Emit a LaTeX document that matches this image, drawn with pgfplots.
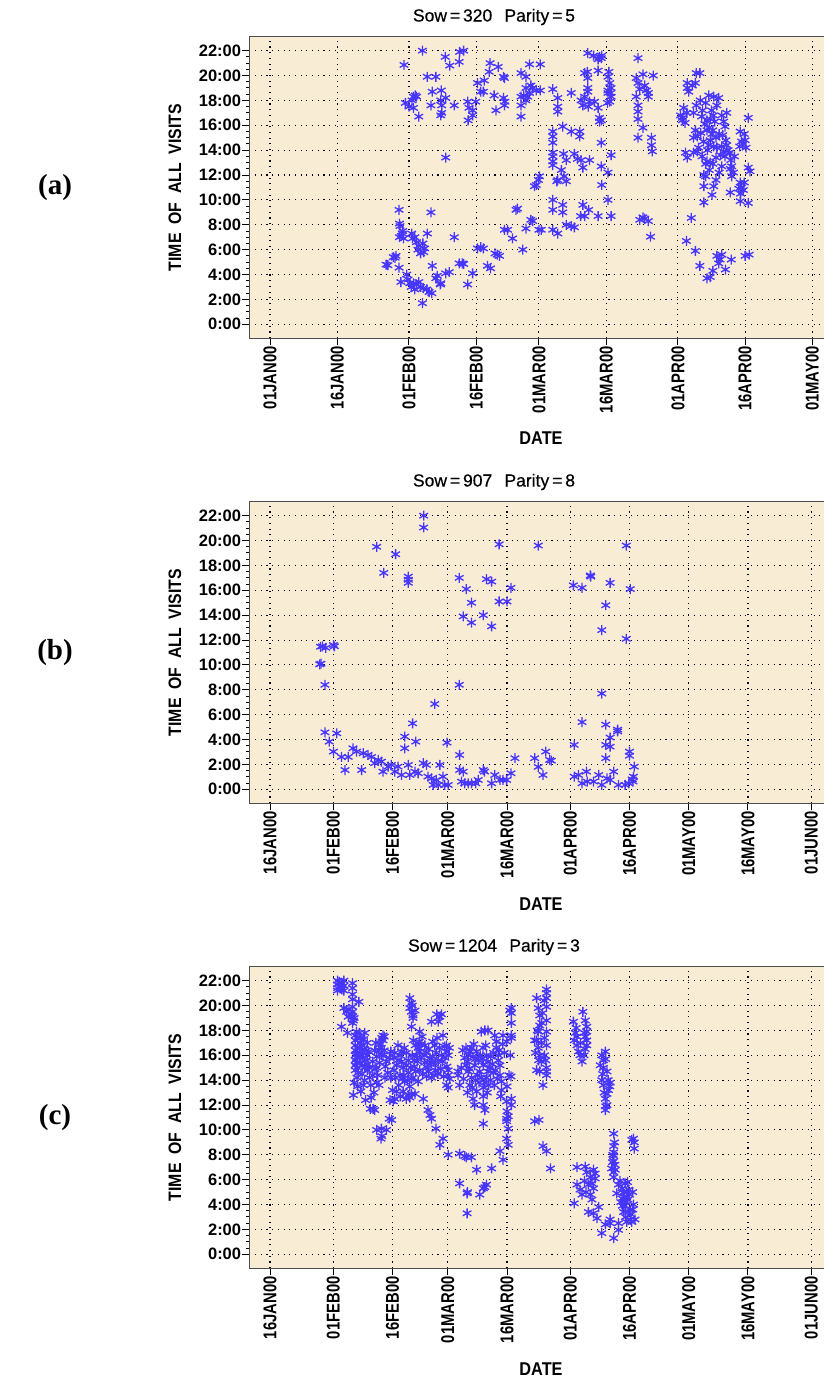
\documentclass[border=0pt]{standalone}
\usepackage{fontspec}
\setmainfont{Liberation Sans}
\newfontfamily\condfont{Liberation Sans}[FakeStretch=0.8]
\newfontfamily\labelfont{Liberation Sans}[FakeStretch=0.88]
\newfontfamily\titlefont{Liberation Sans}[FakeBold=0.5]
\newfontfamily\panelfont{Liberation Serif}
\usepackage{pgfplots}
\usepackage{pgfplotstable}
\pgfplotsset{compat=1.18}

\definecolor{bgcol}{RGB}{249,236,213}
\definecolor{markcol}{RGB}{70,52,255}

% x = days since 01JAN2000, y = hour of day
\pgfplotstableread{
day hour
25.9 4.8
26.3 4.75
27.5 5.4
27.9 5.35
28.1 5.5
28.8 4.55
28.8 9.2
28.9 8.1
29.0 7.9
28.9 7.0
29.3 7.1
29.5 7.3
29.8 6.9
29.6 7.5
29.2 3.4
30.5 4.0
30.8 3.6
31.2 3.3
31.5 3.0
32.0 3.3
32.3 2.8
32.7 3.2
33.2 3.4
33.6 3.0
34.0 1.7
34.2 2.9
35.0 2.8
35.5 2.6
36.1 2.5
33.2 6.3
33.0 6.0
32.7 6.6
32.3 7.0
31.6 7.3
31.8 6.9
33.6 5.7
34.1 6.5
34.5 6.1
34.3 5.8
35.1 7.3
35.9 9.0
36.2 4.7
37.0 3.7
37.3 3.9
38.1 3.3
38.0 3.2
39.2 4.1
40.0 4.2
41.1 7.0
42.2 4.9
42.9 4.9
43.2 4.85
44.1 3.2
45.2 4.1
46.3 6.1
47.0 6.2
47.6 6.1
48.5 4.7
49.2 4.5
50.2 5.7
50.7 5.6
51.2 5.5
52.3 7.6
53.0 7.6
54.1 6.9
54.9 9.2
55.2 9.3
56.4 6.0
57.1 7.7
58.2 8.4
58.6 8.3
60.0 7.6
60.5 7.6
59.0 11.1
59.4 11.2
59.9 11.6
60.1 11.9
29.9 20.85
30.2 17.8
31.0 17.5
31.7 18.0
32.0 18.3
32.4 18.4
32.7 18.3
32.0 17.4
33.2 16.7
34.0 22.0
35.1 19.9
37.0 19.9
36.2 18.7
35.9 17.6
38.2 18.8
38.1 18.0
38.3 17.6
38.3 17.0
38.1 16.8
39.1 21.5
40.1 20.8
39.2 13.4
39.2 18.2
41.1 17.6
42.2 21.1
42.3 21.9
43.2 22.0
44.1 17.9
44.4 17.4
44.2 16.4
45.2 17.2
45.9 17.9
45.2 16.8
46.3 19.4
47.8 19.6
47.0 18.7
47.6 18.7
49.1 21.0
48.9 20.3
50.9 20.7
50.0 18.4
50.4 17.2
52.1 19.9
52.3 19.8
52.1 18.2
52.4 17.9
52.3 17.6
56.0 20.2
57.1 19.9
56.0 18.3
56.0 17.6
56.0 16.7
56.6 18.4
57.1 19.0
58.2 19.2
58.6 19.0
59.4 18.8
60.3 18.8
57.9 20.9
60.3 20.9
57.9 18.6
57.5 18.3
57.1 18.0
63.1 18.9
64.2 18.2
64.2 17.5
64.2 17.1
67.2 18.6
69.4 18.0
70.2 20.2
70.8 20.3
70.9 19.8
70.9 19.0
70.9 18.7
71.3 17.9
71.0 17.5
70.2 18.3
69.8 17.6
70.9 21.8
72.2 21.6
73.5 21.5
73.9 21.4
73.2 21.3
73.2 20.4
74.0 21.6
72.4 17.9
73.2 17.4
73.5 16.6
73.5 16.3
73.9 16.4
75.4 19.9
75.8 19.4
76.1 19.0
75.4 18.6
76.1 18.3
75.8 17.9
75.4 18.8
75.6 20.3
75.3 17.8
76.0 18.6
63.1 15.5
63.1 15.1
63.1 14.6
63.1 13.8
63.1 13.5
63.1 13.1
63.1 12.8
65.3 15.9
67.2 15.5
69.1 15.5
69.1 15.1
65.5 13.7
66.1 13.2
67.9 13.7
68.6 13.3
69.4 13.2
69.8 12.6
71.3 13.2
73.9 14.6
76.1 13.6
73.9 12.7
75.4 12.2
74.0 11.2
75.4 10.0
76.1 8.7
65.0 12.4
64.2 11.6
64.0 11.5
66.1 11.5
65.6 11.9
63.1 10.0
63.1 9.2
65.3 9.6
65.3 9.0
63.1 7.6
64.2 7.3
66.1 8.0
67.2 7.9
67.9 7.8
69.3 8.7
69.8 9.6
70.2 8.7
71.1 9.2
73.2 8.7
82.1 21.4
81.7 19.8
82.1 19.4
82.5 18.9
81.7 18.3
82.1 17.6
82.1 17.1
82.1 16.5
83.2 20.1
83.6 19.2
84.0 18.8
84.4 18.3
85.5 20.0
84.4 18.6
83.2 15.8
82.1 15.0
85.1 15.0
85.1 14.4
85.3 13.9
82.5 8.4
83.2 8.6
83.6 8.5
84.4 8.3
84.9 7.04
95.1 20.2
95.9 20.2
93.1 19.4
93.1 19.0
93.4 18.7
94.2 19.2
94.9 19.4
92.3 17.4
91.6 16.8
92.0 16.6
92.0 16.4
92.6 16.2
93.0 17.0
94.5 17.0
95.1 17.6
96.0 18.0
96.5 17.2
97.2 17.8
97.9 18.4
99.0 18.3
100.1 18.2
99.7 17.6
98.5 17.2
98.9 16.8
99.2 16.3
98.2 16.5
97.5 16.4
97.0 16.1
96.3 16.7
101.9 17.0
100.8 16.8
101.2 16.3
101.5 15.9
94.9 15.6
94.5 15.0
95.3 15.1
96.1 15.4
97.5 15.6
98.0 15.8
98.8 15.6
98.6 15.3
98.2 14.8
97.9 14.4
99.0 14.3
99.5 15.0
100.2 15.3
99.7 14.2
100.8 14.3
101.0 15.2
101.7 14.8
101.9 14.4
101.2 13.9
102.2 14.0
102.5 13.8
101.5 13.5
100.5 13.6
99.5 13.4
92.7 13.8
93.1 13.4
94.5 13.8
95.3 13.9
95.6 14.2
96.7 14.7
97.6 14.0
96.4 13.5
97.5 13.1
98.2 13.0
98.8 12.9
97.2 12.9
98.0 12.4
100.8 12.7
100.2 12.2
99.5 11.6
103.0 12.7
102.7 12.5
102.8 13.2
103.6 13.5
103.4 12.2
103.0 11.9
104.9 15.5
105.2 14.7
105.5 14.5
105.8 15.3
106.0 14.8
106.2 14.2
104.8 14.3
106.7 16.6
106.7 12.6
107.1 12.3
104.9 11.4
105.8 11.4
105.2 11.0
105.6 10.8
104.6 10.9
105.0 10.5
104.9 9.9
106.7 9.75
96.8 12.0
97.2 11.9
96.8 11.1
99.0 11.1
98.6 10.4
96.8 9.8
102.7 10.6
94.0 8.55
92.9 6.7
94.9 5.9
95.9 4.7
97.5 3.7
98.2 3.8
98.8 4.3
99.7 5.5
100.8 5.6
100.1 4.9
101.6 4.4
102.9 5.2
100.4 5.2
106.0 5.5
106.9 5.6
}\sowA

\pgfplotstableread{
day hour
27.8 11.46
28.3 11.5
29.1 11.38
31.05 11.6
31.3 11.5
27.6 10.05
27.9 10.1
28.9 8.4
28.9 4.58
30.0 3.83
31.9 4.5
31.05 3.03
33.1 2.6
34.8 2.6
34.0 1.55
36.0 3.3
36.9 3.03
38.2 1.55
38.6 2.9
39.8 2.76
40.7 2.6
41.5 2.1
42.4 2.36
43.2 2.23
43.6 1.42
44.9 1.82
45.7 1.96
46.6 1.42
47.4 1.82
48.3 1.15
49.1 3.3
49.1 4.24
50.0 1.96
50.4 1.15
51.1 5.3
51.9 3.83
51.7 1.42
52.5 1.29
53.8 2.1
54.6 1.96
55.0 1.02
55.9 0.88
56.7 6.86
56.3 0.35
57.1 0.75
58.0 1.96
57.6 0.35
58.8 1.02
59.2 0.35
59.8 3.75
60.1 0.35
62.9 8.4
63.0 2.76
63.0 1.55
63.9 1.42
63.5 0.62
64.3 0.48
65.2 0.48
66.0 0.48
67.1 0.48
67.7 0.75
69.0 1.55
69.3 1.42
71.1 0.48
71.9 1.15
73.2 0.75
74.0 0.75
74.9 0.75
76.0 1.29
77.0 2.5
53.9 22.0
53.9 21.05
42.0 19.5
46.8 18.9
43.8 17.4
50.0 17.1
50.0 16.85
50.0 16.6
62.9 17.0
64.7 16.1
66.0 15.0
63.9 13.9
66.0 13.4
69.0 14.0
69.8 16.9
71.1 16.7
71.1 13.1
73.0 19.7
73.0 15.1
75.0 15.1
76.0 16.2
82.9 19.6
82.0 2.5
82.9 1.8
84.1 1.15
84.8 3.03
85.8 2.36
86.2 2.3
105.2 19.6
96.1 17.2
96.2 17.1
101.1 16.6
91.8 16.4
94.0 16.2
106.2 16.1
100.0 14.8
99.0 12.8
105.2 12.1
99.0 7.7
94.0 5.4
100.0 5.2
103.0 4.8
103.0 4.65
101.1 4.16
100.0 3.57
101.1 3.43
92.0 3.57
100.0 2.5
106.0 3.03
106.0 2.7
92.0 1.02
93.1 1.15
95.1 1.42
94.0 0.48
95.3 0.62
96.9 0.62
98.2 1.15
99.0 0.35
100.3 0.88
101.1 0.75
102.0 1.42
103.2 0.35
104.9 0.35
105.8 0.48
106.9 0.62
107.0 1.02
107.2 1.82
106.7 0.8
}\sowB

\pgfplotstableread{
day hour
32.1 22.0
32.1 21.7
32.1 21.4
32.1 21.2
32.5 21.9
32.8 21.5
33.2 21.8
33.2 21.3
33.7 22.0
33.7 21.6
33.7 21.2
33.7 19.8
33.1 18.3
34.6 17.8
34.4 19.5
34.8 19.1
35.0 19.7
35.9 21.8
35.9 21.4
35.9 20.9
35.9 20.5
35.9 19.9
35.9 19.5
35.9 19.1
35.9 18.6
35.5 19.3
36.3 19.0
36.1 18.8
37.5 20.3
36.6 17.6
36.6 17.2
36.6 16.8
36.6 16.4
36.6 16.0
36.6 15.6
36.6 15.2
36.6 14.8
36.9 17.9
36.9 16.1
36.9 15.4
37.0 14.2
37.2 17.4
37.2 16.6
37.2 15.9
37.2 15.0
37.4 14.6
37.6 17.8
37.6 16.6
37.8 17.0
37.8 16.2
37.8 15.4
38.0 17.4
38.3 16.8
38.3 16.0
38.3 15.2
38.3 14.5
38.5 15.8
38.6 13.6
38.7 17.3
38.9 16.5
38.9 14.0
39.0 15.0
39.0 17.8
39.3 15.6
39.4 16.4
39.6 14.8
39.6 16.0
39.6 17.0
39.8 15.3
40.0 16.3
40.2 14.2
40.2 15.0
36.3 13.8
38.0 13.1
37.2 13.5
39.2 12.4
36.1 12.8
40.4 11.7
40.6 12.6
41.5 11.6
41.1 11.7
41.3 13.0
40.5 13.6
41.0 14.4
41.0 15.5
41.6 14.9
41.5 16.4
41.8 17.0
42.0 15.0
42.0 13.8
42.0 15.9
42.3 14.4
42.5 16.4
42.7 15.4
42.9 16.9
43.3 16.0
43.9 17.5
43.6 17.2
43.3 17.4
43.6 17.6
43.2 16.6
43.6 16.0
43.9 16.4
44.2 15.1
44.5 15.5
44.8 14.6
44.1 14.2
45.2 15.8
45.6 16.3
45.6 14.2
46.0 13.2
45.4 12.4
42.6 13.6
42.0 10.0
43.3 9.5
43.1 9.3
44.5 10.0
45.8 10.8
45.2 10.9
43.2 10.1
46.2 12.3
46.6 12.5
47.0 13.1
47.0 15.2
46.6 16.2
47.4 16.8
47.9 16.0
48.3 15.5
48.7 15.0
47.9 14.4
47.6 13.6
48.0 12.7
48.5 14.1
49.0 16.6
49.1 13.9
48.7 13.1
49.8 14.0
50.0 12.8
50.8 12.9
51.7 12.9
49.5 12.5
50.4 12.6
46.4 15.8
46.4 14.8
46.8 14.2
47.4 15.6
48.3 16.3
48.9 14.4
49.5 15.2
49.5 16.2
50.0 15.6
50.0 14.6
50.4 13.5
50.6 15.0
50.8 14.1
51.0 16.0
51.3 17.2
51.9 14.7
52.5 13.9
50.8 20.2
50.8 19.5
51.2 19.0
50.8 18.3
50.4 19.8
51.7 19.6
50.4 20.6
51.0 20.0
51.2 19.2
52.9 17.9
52.8 17.1
52.9 16.3
53.2 15.8
53.2 16.9
53.5 17.5
52.0 16.0
52.5 16.6
51.5 15.1
52.9 14.8
53.7 14.5
51.2 14.2
51.8 16.8
52.3 15.5
51.5 15.6
54.0 16.0
54.2 16.8
54.6 16.2
54.8 15.0
55.2 16.5
55.5 15.8
55.5 15.3
55.8 15.4
55.1 14.7
55.9 14.2
54.6 14.3
54.2 15.4
56.2 15.9
56.2 17.1
56.8 15.3
57.3 17.4
57.9 16.6
58.2 14.9
58.6 15.5
59.0 14.3
59.3 15.8
59.8 15.1
60.4 16.6
55.9 18.7
58.0 19.1
57.6 18.7
58.4 19.3
57.2 19.3
56.7 16.8
57.1 16.2
57.6 15.6
58.4 16.0
59.7 16.3
59.2 16.7
60.1 16.0
59.7 16.8
58.8 17.6
53.8 12.5
55.0 11.6
55.5 11.2
55.9 10.9
57.0 10.1
58.8 9.3
58.0 8.8
60.1 8.0
60.1 14.8
60.1 14.4
60.1 13.4
59.7 13.6
60.5 14.1
57.5 14.5
56.5 14.4
56.9 14.8
63.0 13.6
62.6 14.4
62.6 14.7
63.4 15.0
63.8 16.4
64.0 14.1
64.3 15.8
64.6 16.6
65.0 15.5
65.2 16.0
64.7 15.2
65.2 14.7
65.5 14.9
65.6 13.6
66.0 14.2
66.2 13.4
66.4 15.9
66.6 16.9
66.8 15.2
67.0 15.7
67.3 16.3
67.5 14.4
67.7 15.6
67.9 13.8
68.1 14.7
68.2 16.0
68.7 15.7
68.9 16.6
66.0 16.6
65.6 16.3
66.4 12.5
66.8 12.0
67.3 13.1
68.5 14.2
69.0 13.4
69.4 13.8
69.6 16.8
69.8 14.2
70.0 13.0
70.2 14.7
70.4 13.6
69.0 12.7
69.0 12.0
69.4 11.6
69.8 16.0
69.0 15.2
70.2 15.5
70.6 15.0
70.9 15.9
71.3 15.3
71.6 16.2
71.8 13.6
72.0 14.8
72.6 14.1
73.0 16.4
73.4 12.7
69.0 10.5
68.5 17.9
69.4 18.0
70.2 18.0
71.9 17.6
72.3 17.1
72.3 16.6
72.8 16.0
72.8 15.6
73.2 15.2
73.2 14.4
73.6 13.9
73.6 13.2
73.9 16.9
74.3 16.2
74.0 17.6
74.9 17.1
75.0 13.5
75.5 14.4
75.8 16.0
76.0 14.3
76.1 19.8
75.7 19.6
76.1 19.4
76.1 18.6
76.1 17.4
76.1 17.6
74.9 10.9
75.3 11.1
74.9 10.7
75.3 10.1
74.9 9.3
75.3 8.8
74.9 12.3
76.1 12.5
76.1 12.0
75.0 11.5
73.2 8.3
74.0 7.6
63.0 8.1
64.3 7.9
66.0 7.8
64.7 7.8
67.3 6.8
71.1 6.9
63.0 5.7
64.9 4.9
65.0 5.0
68.1 4.8
69.0 5.3
69.8 5.6
69.4 5.4
64.9 3.3
70.8 14.0
71.5 14.6
67.0 14.0
65.0 13.0
82.5 20.6
82.9 19.8
83.3 19.2
83.3 18.4
82.7 18.0
82.9 17.9
82.5 17.2
82.9 16.6
83.3 16.0
83.0 15.6
83.7 15.5
83.3 14.7
82.5 14.8
82.2 16.2
82.0 17.2
83.7 17.0
83.8 18.6
84.0 19.4
84.4 20.4
84.8 15.6
85.0 21.3
85.0 21.0
85.0 20.6
85.0 19.9
85.0 18.8
85.0 17.9
85.0 16.8
85.0 14.7
85.0 14.4
85.0 15.0
84.5 17.4
84.5 16.0
84.1 13.6
82.0 10.7
83.1 10.8
84.1 8.7
85.0 8.3
86.0 6.9
91.8 18.7
92.0 17.2
92.3 17.8
92.5 18.2
92.7 17.5
92.7 16.8
93.1 16.3
93.5 16.0
93.6 17.0
94.0 15.5
94.5 16.0
94.6 17.8
94.2 19.5
94.8 18.8
95.2 18.3
95.2 17.9
94.8 17.5
95.2 16.8
94.8 16.5
95.2 17.2
99.0 16.0
99.9 16.3
100.0 15.7
98.6 15.2
99.4 15.0
99.2 14.5
100.3 14.7
100.6 14.0
99.0 14.0
101.1 13.8
101.0 13.5
100.3 12.9
99.6 13.0
99.9 12.5
100.3 12.0
100.0 11.9
99.9 11.6
100.7 13.2
99.4 13.6
99.4 15.6
102.0 9.7
102.2 9.0
102.0 8.7
102.0 8.2
101.8 8.0
102.0 7.9
102.0 7.5
101.7 7.4
101.5 6.9
102.4 6.8
102.0 6.6
102.0 6.2
102.3 7.2
107.0 9.3
107.2 9.0
107.2 8.5
106.6 9.2
103.2 5.6
102.8 4.9
104.1 4.5
104.5 5.0
104.8 4.6
104.9 5.7
105.3 5.0
104.9 4.2
104.5 3.4
105.0 3.0
105.3 2.6
105.6 4.4
105.8 3.4
106.0 4.8
106.2 2.8
106.4 3.2
106.8 3.6
106.8 5.0
107.0 4.0
106.6 2.6
107.4 2.8
104.9 3.9
104.2 3.9
103.8 4.2
105.3 4.6
104.1 5.3
103.6 5.9
105.5 5.8
105.8 5.2
106.2 3.6
92.7 7.0
94.8 7.05
95.2 6.6
94.6 5.9
95.0 5.0
93.5 5.2
96.5 4.4
96.9 6.8
97.3 6.1
96.5 5.7
95.6 5.6
92.7 5.6
94.0 4.8
96.1 4.8
96.9 5.3
96.1 6.2
97.3 6.5
92.0 4.1
95.6 3.4
96.9 3.3
98.2 3.8
97.8 2.9
99.9 2.4
101.1 2.5
101.1 2.8
103.2 2.5
103.2 1.96
99.0 1.7
102.0 1.3
}\sowC

\pgfplotsset{
  visits/.style={
    scale only axis,
    height=301.6pt,
    ymin=-1.125, ymax=23.125,
    ytick={0,2,...,22},
    yticklabels={0:00,2:00,4:00,6:00,8:00,10:00,12:00,14:00,16:00,18:00,20:00,22:00},
    minor y tick num=3,
    minor x tick num=7,
    tick pos=left,
    tick align=outside,
    major tick length=7pt,
    minor tick length=3.5pt,
    every tick/.style={black, line width=1pt},
    axis line style={black!70, line width=1.2pt},
    axis background/.style={fill=bgcol},
    grid=major,
    major grid style={black, line width=1.1pt, dash pattern=on 1.1pt off 4.6pt},
    yticklabel style={font=\fontsize{16.5}{17}\selectfont\bfseries, inner sep=1pt},
    xticklabel style={font=\condfont\fontsize{18.5}{19}\selectfont\bfseries, rotate=90, anchor=east, inner sep=1pt},
  },
  visitmarks/.style={only marks, mark=asterisk, mark size=5pt,
    color=markcol, mark options={line width=1.3pt}},
}

\newcommand\paneltext[5]{%
  % #1 title, #2 title y, #3 y-label y, #4 DATE y, #5 panel tag
  \node[font=\titlefont\fontsize{17.5}{18}\selectfont] at (494pt,#2) {#1};
  \node[rotate=90, font=\labelfont\fontsize{18}{19}\selectfont\bfseries] at (175pt,#3) {TIME\ \ OF\ \ ALL\ \ VISITS};
  \node[font=\labelfont\fontsize{18.5}{19}\selectfont\bfseries] at (541pt,#4) {DATE};
  \node[font=\panelfont\fontsize{29}{30}\selectfont\bfseries] at (55pt,#3) {#5};
}

\begin{document}
\begin{tikzpicture}
\begin{axis}[visits, at={(249.3pt,1039.7pt)}, anchor=south west,
  width=576.5pt, xmin=-4.62, xmax=124,
  xtick={0,15,31,46,60,75,91,106,121},
  xticklabels={01JAN00,16JAN00,01FEB00,16FEB00,01MAR00,16MAR00,01APR00,16APR00,01MAY00}]
  \addplot[visitmarks] table[x=day, y=hour] {\sowA};
\end{axis}
\paneltext{Sow\,=\,320\hspace{0.7em}Parity\,=\,5}{1361pt}{1190.5pt}{940pt}{(a)}

\begin{axis}[visits, at={(249.3pt,574.7pt)}, anchor=south west,
  width=576.1pt, xmin=9.76, xmax=155.6,
  xtick={15,31,46,60,75,91,106,121,136,152},
  xticklabels={16JAN00,01FEB00,16FEB00,01MAR00,16MAR00,01APR00,16APR00,01MAY00,16MAY00,01JUN00}]
  \addplot[visitmarks] table[x=day, y=hour] {\sowB};
\end{axis}
\paneltext{Sow\,=\,907\hspace{0.7em}Parity\,=\,8}{896pt}{725.5pt}{474pt}{(b)}

\begin{axis}[visits, at={(249.3pt,109.7pt)}, anchor=south west,
  width=576.1pt, xmin=9.76, xmax=155.6,
  xtick={15,31,46,60,75,91,106,121,136,152},
  xticklabels={16JAN00,01FEB00,16FEB00,01MAR00,16MAR00,01APR00,16APR00,01MAY00,16MAY00,01JUN00}]
  \addplot[visitmarks] table[x=day, y=hour] {\sowC};
\end{axis}
\paneltext{Sow\,=\,1204\hspace{0.7em}Parity\,=\,3}{431pt}{260.5pt}{9pt}{(c)}

\pgfresetboundingbox
\path[use as bounding box] (0,0) rectangle (823pt,1378pt);
\end{tikzpicture}
\end{document}
